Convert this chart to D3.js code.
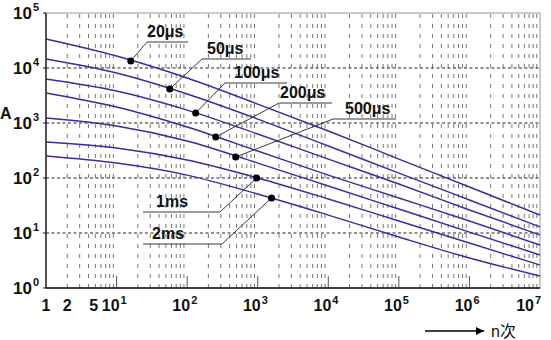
<!DOCTYPE html>
<html lang="zh">
<head>
<meta charset="UTF-8">
<title>Surge current vs. number of pulses</title>
<style>
  body { margin: 0; background: #fff; }
  svg { display: block; font-family: "Liberation Sans", Arial, sans-serif; }
</style>
<script src="https://d3js.org/d3.v7.min.js"></script>
</head>
<body>
<svg id="chart" width="551" height="340"></svg>
<script>
// number of pulses at which each curve is read
const pulseCounts = [1, 10, 100, 1e3, 1e4, 1e5, 1e6, 1e7];

// peak current (A) per pulse width, read at pulseCounts
const curve20us  = [33700, 16500, 6580, 2210, 716, 221, 68.6, 21.2];
const curve50us  = [14600, 8110, 3370, 1180, 382, 123, 39.8, 12.9];
const curve100us = [6310, 3820, 1720, 631, 221, 77.8, 26.2, 9.2];
const curve200us = [3510, 1950, 846, 310, 113, 43.3, 16.5, 6.05];
const curve500us = [1230, 881, 471, 187, 71.6, 27.3, 10.4, 3.98];
const curve1ms   = [452, 351, 212, 100, 41.5, 16.5, 6.58, 2.62];
const curve2ms   = [251, 187, 113, 51.2, 21.2, 8.45, 3.51, 1.65];

const seriesNames = ["20μs", "50μs", "100μs", "200μs", "500μs", "1ms", "2ms"];
const seriesValues = [curve20us, curve50us, curve100us, curve200us, curve500us, curve1ms, curve2ms];

// marked point on each curve (pulses, current)
const markerPulses  = [15.9, 56.7, 132, 254, 487, 965, 1570];
const markerCurrent = [13400, 4150, 1520, 556, 241, 100, 43.3];

// axis tick labels
const xTickValues = [1, 2, 5, 10, 100, 1e3, 1e4, 1e5, 1e6, 1e7];
const yTickValues = [1, 10, 100, 1e3, 1e4, 1e5];

const svg = d3.select("#chart");
const plotL = 46, plotR = 540, plotT = 13, plotB = 288;

const x = d3.scaleLog().domain([1, 1e7]).range([plotL, plotR]);
const y = d3.scaleLog().domain([1, 1e5]).range([plotB, plotT]);

// minor vertical grid (2..9 of every decade)
const minor = [];
for (let k = 0; k < 7; k++) {
  for (let m = 2; m <= 9; m++) minor.push(m * Math.pow(10, k));
}
svg.append("g").selectAll("line").data(minor).join("line")
  .attr("x1", d => x(d)).attr("x2", d => x(d))
  .attr("y1", plotB).attr("y2", plotT)
  .attr("stroke", "#777").attr("stroke-width", 1)
  .attr("stroke-dasharray", "4,6");

// decade ticks at the bottom
svg.append("g").selectAll("line").data(d3.range(1, 7).map(k => Math.pow(10, k))).join("line")
  .attr("x1", d => x(d)).attr("x2", d => x(d))
  .attr("y1", plotB).attr("y2", plotB - 12)
  .attr("stroke", "#555").attr("stroke-width", 1);

// horizontal dashed lines at decades
svg.append("g").selectAll("line").data([10, 100, 1e3, 1e4]).join("line")
  .attr("x1", plotL).attr("x2", plotR)
  .attr("y1", d => y(d)).attr("y2", d => y(d))
  .attr("stroke", "#222").attr("stroke-width", 1.2)
  .attr("stroke-dasharray", "3,2.5");

// frame
svg.append("rect")
  .attr("x", plotL).attr("y", plotT)
  .attr("width", plotR - plotL).attr("height", plotB - plotT)
  .attr("fill", "none").attr("stroke", "#999").attr("stroke-width", 1);
svg.append("line").attr("x1", plotL).attr("x2", plotL).attr("y1", plotT).attr("y2", plotB)
  .attr("stroke", "#111").attr("stroke-width", 1.3);
svg.append("line").attr("x1", plotL).attr("x2", plotR).attr("y1", plotB).attr("y2", plotB)
  .attr("stroke", "#111").attr("stroke-width", 1.3);
svg.append("g").selectAll("line").data(yTickValues).join("line")
  .attr("x1", plotL - 3).attr("x2", plotL)
  .attr("y1", d => y(d)).attr("y2", d => y(d))
  .attr("stroke", "#111");

// curves
const line = d3.line()
  .x((d, i) => x(pulseCounts[i]))
  .y(d => y(d))
  .curve(d3.curveMonotoneX);

svg.append("g").selectAll("path").data(seriesValues).join("path")
  .attr("d", d => line(d))
  .attr("fill", "none")
  .attr("stroke", "#3b2a9e")
  .attr("stroke-width", 1.4);

// labels with leader lines
const labelLayout = [
  { x0: 147, x1: 188, y: 42, tx: 147, elbow: "left" },
  { x0: 202, x1: 251, y: 59, tx: 207, elbow: "left" },
  { x0: 225, x1: 287, y: 83, tx: 234, elbow: "left" },
  { x0: 279, x1: 332, y: 103, tx: 280, elbow: "left" },
  { x0: 333, x1: 396, y: 119, tx: 345, elbow: "left" },
  { x0: 143, x1: 220, y: 212, tx: 156, elbow: "right" },
  { x0: 143, x1: 222, y: 244, tx: 152, elbow: "right" }
];

const ann = svg.append("g");
seriesNames.forEach((name, i) => {
  const L = labelLayout[i];
  const px = x(markerPulses[i]), py = y(markerCurrent[i]);
  const ex = L.elbow === "left" ? L.x0 : L.x1;
  ann.append("line").attr("x1", px).attr("y1", py).attr("x2", ex).attr("y2", L.y)
    .attr("stroke", "#222").attr("stroke-width", 0.9);
  ann.append("line").attr("x1", L.x0).attr("x2", L.x1).attr("y1", L.y).attr("y2", L.y)
    .attr("stroke", "#222").attr("stroke-width", 0.9);
  ann.append("text").attr("x", L.tx).attr("y", L.y - 5)
    .attr("font-size", 16).attr("font-weight", "bold").attr("fill", "#111")
    .text(name);
});

svg.append("g").selectAll("circle").data(markerPulses).join("circle")
  .attr("cx", d => x(d))
  .attr("cy", (d, i) => y(markerCurrent[i]))
  .attr("r", 3.5)
  .attr("fill", "#000");

// y tick labels
const yl = svg.append("g").attr("font-size", 17).attr("font-weight", "bold").attr("fill", "#111");
yTickValues.forEach(v => {
  yl.append("text").attr("x", 32).attr("y", y(v) + 6).attr("text-anchor", "end").text("10");
  yl.append("text").attr("x", 33).attr("y", y(v) - 2).attr("font-size", 11)
    .text(Math.round(Math.log10(v)));
});

// x tick labels: "10" + superscript, the pair centred on the tick
const xl = svg.append("g").attr("font-size", 16).attr("font-weight", "bold").attr("fill", "#111");
xTickValues.forEach(v => {
  const e = Math.round(Math.log10(v));
  if (v < 10) {
    xl.append("text").attr("x", x(v) - (v === 5 ? 1.5 : 0)).attr("y", 311)
      .attr("text-anchor", "middle").text(v);
  } else {
    const cx = Math.min(x(v), 531);
    xl.append("text").attr("x", cx + 3).attr("y", 311).attr("text-anchor", "end").text("10");
    xl.append("text").attr("x", cx + 4).attr("y", 304).attr("font-size", 11).text(e);
  }
});

// axis captions
svg.append("text").attr("x", 0).attr("y", 119)
  .attr("font-size", 16).attr("font-weight", "bold").attr("fill", "#111").text("A");

svg.append("defs").append("marker")
  .attr("id", "arrow").attr("viewBox", "0 0 10 10")
  .attr("refX", 10).attr("refY", 5)
  .attr("markerWidth", 9).attr("markerHeight", 8)
  .attr("markerUnits", "userSpaceOnUse")
  .attr("orient", "auto")
  .append("path").attr("d", "M0,0L10,5L0,10Z").attr("fill", "#000");

svg.append("line").attr("x1", 425).attr("x2", 484).attr("y1", 331).attr("y2", 331)
  .attr("stroke", "#000").attr("stroke-width", 1.5).attr("marker-end", "url(#arrow)");
svg.append("text").attr("x", 491).attr("y", 337)
  .attr("font-size", 16).attr("fill", "#111")
  .attr("font-family", "'Liberation Sans', 'Noto Sans CJK SC', sans-serif")
  .text("n次");
</script>
</body>
</html>
